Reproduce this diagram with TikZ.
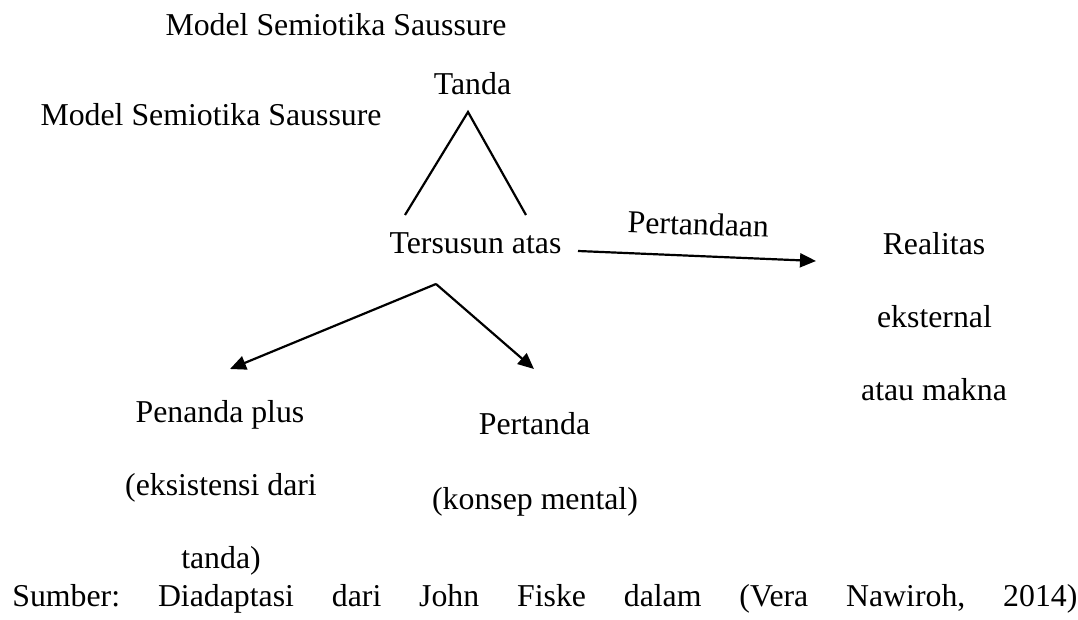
\documentclass[tikz,border=0pt]{standalone}
\usepackage{fontspec}
\setmainfont{Liberation Serif}
\usetikzlibrary{arrows.meta}
\begin{document}
\begin{tikzpicture}[x=0.5pt,y=-0.5pt,
  lbl/.style={anchor=base,inner sep=0pt,font=\fontsize{15.9pt}{19pt}\selectfont},
  ln/.style={line width=1.1pt,line cap=butt},
  arr/.style={ln,-{Triangle[length=8pt,width=7pt]}}]
\useasboundingbox (0,0) rectangle (1078,620);
\node[lbl] (title1) at (336,36) {Model Semiotika Saussure};
\node[lbl] (title2) at (211,126) {Model Semiotika Saussure};
\node[lbl] (tanda) at (472.5,95) {Tanda};
\node[lbl] (tersusun) at (475.5,254) {Tersusun atas};
\node[lbl,rotate=-2] (pertandaan) at (698,235) {Pertandaan};
\node[lbl] (real1) at (934,255) {Realitas};
\node[lbl] (real2) at (934.5,328) {eksternal};
\node[lbl] (real3) at (934,401) {atau makna};
\node[lbl] (pen1) at (220,423) {Penanda plus};
\node[lbl] (pen2) at (221,496) {(eksistensi dari};
\node[lbl] (pen3) at (221,568) {tanda)};
\node[lbl] (per1) at (534.5,435) {Pertanda};
\node[lbl] (per2) at (535,510) {(konsep mental)};
\node[lbl,anchor=base west] (sumber) at (12,607) {\hbox to 532.5pt{Sumber:\hfill Diadaptasi\hfill dari\hfill John\hfill Fiske\hfill dalam\hfill (Vera\hfill Nawiroh,\hfill 2014)}};
\coordinate (apex) at (468,112);
\coordinate (footL) at (405,215);
\coordinate (footR) at (526,215);
\coordinate (pstart) at (578,251);
\coordinate (ptip) at (816,261);
\coordinate (split) at (436,284);
\coordinate (tipL) at (230,369);
\coordinate (tipR) at (534,369);
\draw[ln,line join=miter] (footL) -- (apex) -- (footR);
\draw[arr] (pstart) -- (ptip);
\draw[arr] (split) -- (tipL);
\draw[arr] (split) -- (tipR);
\end{tikzpicture}
\end{document}
